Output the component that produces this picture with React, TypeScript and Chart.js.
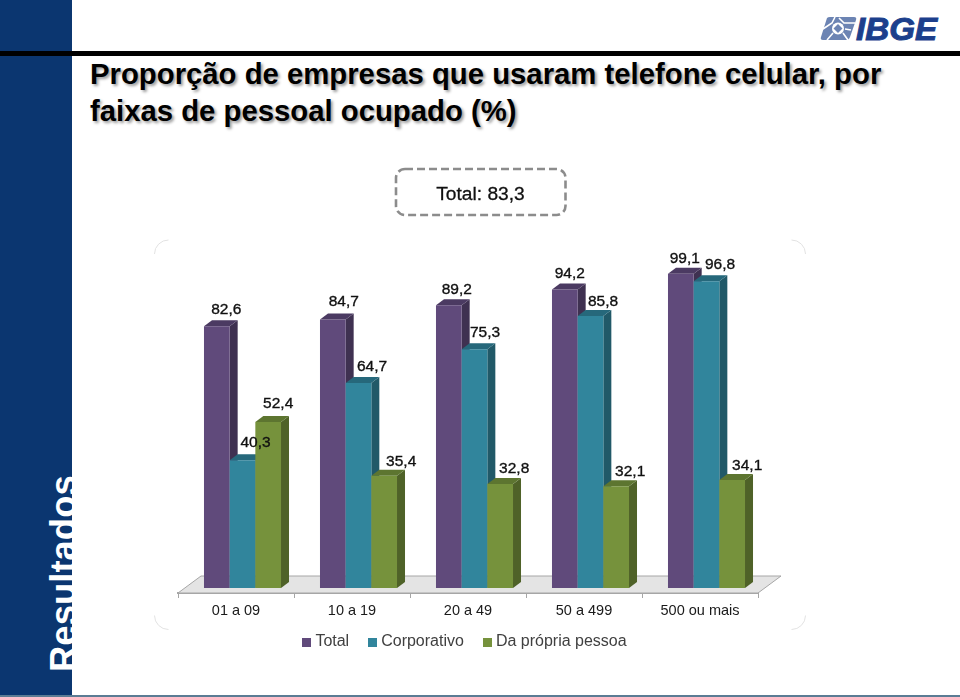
import React, { useEffect, useRef } from "react";
import { Chart, registerables } from "chart.js";

Chart.register(...registerables);

const categories = ["01 a 09", "10 a 19", "20 a 49", "50 a 499", "500 ou mais"];
const seriesNames = ["Total", "Corporativo", "Da própria pessoa"];
const totalValues = [82.6, 84.7, 89.2, 94.2, 99.1];
const corporativoValues = [40.3, 64.7, 75.3, 85.8, 96.8];
const propriaValues = [52.4, 35.4, 32.8, 32.1, 34.1];

const frontColors = ["#604a7b", "#31859c", "#76923c"];
const sideColors = ["#3f3151", "#215968", "#4f6228"];
const topColors = ["#4b3a62", "#26687b", "#5d7530"];

const labelNudgeX = [
  [9.5, 11, 8, 5, 4],
  [13, 13.5, 10.5, 12.5, 13.5],
  [10, 17, 14, 14, 15],
];
const labelNudgeY = [
  [-16.5, -17.5, -15.5, -15.5, -15.5],
  [-17.5, -16.5, -16.5, -14.5, -16.5],
  [-18.5, -14.5, -15.5, -14.5, -14.5],
];

const FONT = '"Liberation Sans", Arial, sans-serif';
const DEPTH_X = 8;
const DEPTH_Y = 6;
const SHIFT_X = 6.5;
const SHIFT_Y = -5;

const poly = (ctx: CanvasRenderingContext2D, pts: number[][], fill: string) => {
  ctx.beginPath();
  pts.forEach(([x, y], i) => (i ? ctx.lineTo(x, y) : ctx.moveTo(x, y)));
  ctx.closePath();
  ctx.fillStyle = fill;
  ctx.fill();
};

const swatch = (color: string) => {
  const c = document.createElement("canvas");
  c.width = 9;
  c.height = 9;
  const g = c.getContext("2d")!;
  g.fillStyle = color;
  g.fillRect(0, 0, 9, 9);
  return c;
};

const scene3d = {
  id: "scene3d",
  afterLayout(chart: any) {
    const lg = chart.legend;
    const h = lg.bottom - lg.top;
    lg.top = 611;
    lg.bottom = 611 + h;
    lg.left -= 1.5;
    lg.right -= 1.5;
  },
  beforeDatasetsDraw(chart: any) {
    const ctx: CanvasRenderingContext2D = chart.ctx;
    const { left, right, bottom } = chart.chartArea;

    // faint rounded corners of the chart frame
    const r = 14;
    const [fl, ft, fr, fb] = [154.5, 240, 805.5, 629.5];
    ctx.save();
    ctx.strokeStyle = "#e2e2e2";
    ctx.lineWidth = 1;
    [
      [fl + r, ft + r, Math.PI, 1.5 * Math.PI],
      [fr - r, ft + r, 1.5 * Math.PI, 2 * Math.PI],
      [fr - r, fb - r, 0, 0.5 * Math.PI],
      [fl + r, fb - r, 0.5 * Math.PI, Math.PI],
    ].forEach(([x, y, a, b]) => {
      ctx.beginPath();
      ctx.arc(x, y, r, a, b);
      ctx.stroke();
    });

    // floor
    poly(
      ctx,
      [
        [left, bottom],
        [right, bottom],
        [right + 23, bottom - 17],
        [left + 23, bottom - 17],
      ],
      "#e4e4e4"
    );
    ctx.strokeStyle = "#a6a6a6";
    ctx.lineWidth = 1;
    ctx.stroke();

    // bars: sides first, then the library's own front faces, series by series
    ctx.translate(SHIFT_X, SHIFT_Y);
    chart.getSortedVisibleDatasetMetas().forEach((meta: any) => {
      const k = meta.index;
      meta.data.forEach((el: any) => {
        const p = el.getProps(["x", "y", "base", "width"], true);
        const l = p.x - p.width / 2;
        const rr = p.x + p.width / 2;
        poly(
          ctx,
          [
            [rr, p.y],
            [rr + DEPTH_X, p.y - DEPTH_Y],
            [rr + DEPTH_X, p.base - DEPTH_Y],
            [rr, p.base],
          ],
          sideColors[k]
        );
        poly(
          ctx,
          [
            [l, p.y],
            [l + DEPTH_X, p.y - DEPTH_Y],
            [rr + DEPTH_X, p.y - DEPTH_Y],
            [rr, p.y],
          ],
          topColors[k]
        );
      });
      meta.controller.draw();
    });

    // value labels
    ctx.font = `15.5px ${FONT}`;
    ctx.fillStyle = "#111111";
    ctx.strokeStyle = "#111111";
    ctx.lineWidth = 0.35;
    ctx.textAlign = "center";
    ctx.textBaseline = "middle";
    chart.getSortedVisibleDatasetMetas().forEach((meta: any) => {
      const k = meta.index;
      meta.data.forEach((el: any, i: number) => {
        const v = chart.data.datasets[k].data[i];
        const t = String(v.toFixed(1)).replace(".", ",");
        const x = el.x + labelNudgeX[k][i];
        const y = el.y + labelNudgeY[k][i];
        ctx.fillText(t, x, y);
        ctx.strokeText(t, x, y);
      });
    });
    ctx.restore();
    return false;
  },
};

export default function App() {
  const ref = useRef<HTMLCanvasElement>(null);
  useEffect(() => {
    document.body.style.margin = "0";
    const chart = new Chart(ref.current!, {
      type: "bar",
      data: {
        labels: categories,
        datasets: [totalValues, corporativoValues, propriaValues].map((data, i) => ({
          label: seriesNames[i],
          data,
          backgroundColor: frontColors[i],
          borderWidth: 0,
          categoryPercentage: 0.664,
          barPercentage: 1,
        })),
      },
      plugins: [scene3d],
      options: {
        responsive: false,
        animation: false,
        layout: { padding: { left: 178, right: 202, top: 276, bottom: 30 } },
        scales: {
          y: { display: false, min: 0, max: 100 },
          x: {
            afterFit: (s: any) => {
              s.height = 25;
            },
            border: { color: "#a6a6a6", width: 2 },
            grid: { drawOnChartArea: false, tickLength: 5, color: "#a6a6a6" },
            ticks: { color: "#1a1a1a", padding: 4, font: { family: FONT, size: 14.5 }, maxRotation: 0 },
          },
        },
        plugins: {
          tooltip: { enabled: false },
          legend: {
            position: "bottom",
            labels: {
              usePointStyle: true,
              pointStyleWidth: 1,
              boxHeight: 9,
              padding: 23,
              color: "#404040",
              font: { family: FONT, size: 16 },
              generateLabels: () =>
                seriesNames.map((text, i) => ({
                  text,
                  fontColor: "#404040",
                  pointStyle: swatch(frontColors[i]),
                  datasetIndex: i,
                  lineWidth: 0,
                })),
            },
          },
        },
      },
    } as any);
    return () => chart.destroy();
  }, []);

  return (
    <div style={{ position: "absolute", left: 0, top: 0, width: 960, height: 697, overflow: "hidden", background: "#fff", fontFamily: FONT }}>
      <div style={{ position: "absolute", left: 0, top: 0, width: 72, height: 697, background: "#0b3670", overflow: "hidden" }}>
        <div
          style={{
            position: "absolute",
            left: 82,
            top: 672,
            transformOrigin: "0 0",
            transform: "rotate(-90deg) translateY(-100%)",
            color: "#fff",
            fontWeight: 700,
            fontSize: 36.5,
            lineHeight: "36px",
            whiteSpace: "nowrap",
          }}
        >
          Resultados
        </div>
      </div>
      <div style={{ position: "absolute", left: 0, top: 51, width: 960, height: 5, background: "#000" }} />
      <div style={{ position: "absolute", left: 0, top: 695, width: 960, height: 2, background: "#5b7c94" }} />
      <svg style={{ position: "absolute", left: 815, top: 10 }} width={130} height={36} viewBox="0 0 130 36">
        <path d="M12 8 Q13 7 15 7 L39 7 Q42 7 41 10 L35 27 Q34 30 31 30 L8 30 Q5 30 6 27 Z" fill="#6c84b3" />
        <path d="M20 7 L17 13 L8 19 M40 13 L29 13 L24 8 M12 30 L18 23 M33 30 L28 23 M36 20 L30 19" stroke="#fff" strokeWidth="1.6" fill="none" />
        <circle cx="23" cy="18.5" r="6" fill="#fff" />
        <path d="M23 14 L27.5 18.5 L23 23 L18.5 18.5 Z" fill="#6c84b3" />
        <text x="41" y="30" fontFamily={FONT} fontWeight="700" fontStyle="italic" fontSize="32" fill="#1c3f8c" stroke="#1c3f8c" strokeWidth="1" textLength="81" lengthAdjust="spacingAndGlyphs">
          IBGE
        </text>
      </svg>
      <div
        style={{
          position: "absolute",
          left: 90,
          top: 54.5,
          width: 860,
          fontWeight: 700,
          fontSize: 29.3,
          lineHeight: "37px",
          whiteSpace: "nowrap",
          color: "#000",
          textShadow: "2px 2px 3px rgba(0,0,0,0.4)",
        }}
      >
        Proporção de empresas que usaram telefone celular, por
        <br />
        faixas de pessoal ocupado (%)
      </div>
      <canvas ref={ref} width={960} height={697} style={{ position: "absolute", left: 0, top: 0 }} />
      <svg style={{ position: "absolute", left: 390, top: 163 }} width={182} height={58}>
        <rect x="6" y="6" width="169.5" height="46" rx="9" ry="9" fill="none" stroke="#8c8c8c" strokeWidth="2.6" strokeDasharray="8 4" />
        <text x="90.5" y="36.5" textAnchor="middle" fontFamily={FONT} fontSize="19.2" fill="#111" stroke="#111" strokeWidth="0.3">
          Total: 83,3
        </text>
      </svg>
    </div>
  );
}
